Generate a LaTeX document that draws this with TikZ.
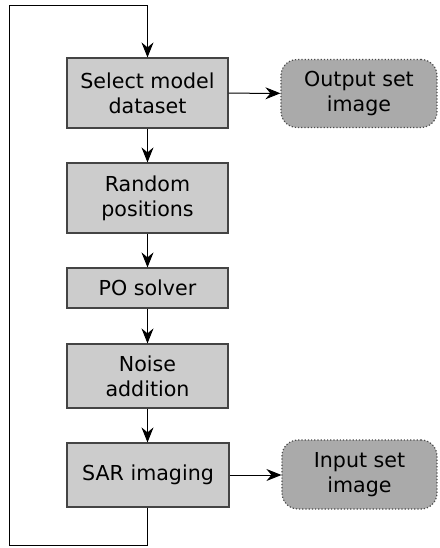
\documentclass[tikz,border=0pt]{standalone}
\usepackage{fontspec}
\setmainfont{DejaVu Sans}
\usetikzlibrary{arrows.meta}
\definecolor{boxfill}{HTML}{CCCCCC}
\definecolor{outfill}{HTML}{AAAAAA}
\definecolor{boxline}{HTML}{444444}
\begin{document}
\begin{tikzpicture}[x=0.5pt,y=-0.5pt,
  font=\fontsize{10.3}{12.5}\selectfont,
  procbox/.style={draw=boxline,line width=0.6pt,fill=boxfill,align=center,minimum width=80.5pt,inner sep=0pt},
  outbox/.style={draw=black!70,densely dotted,line width=0.6pt,fill=outfill,rounded corners=8pt,align=center,minimum width=78pt,minimum height=34pt,inner sep=0pt},
  flow/.style={line width=0.5pt,-{Stealth[length=7.5pt,width=6pt,inset=2.5pt]}},
  loopline/.style={line width=0.5pt}]
\useasboundingbox (0,0) rectangle (440,548);
\node[procbox,minimum height=35pt] (b1) at (147.5,93) {Select model\\dataset};
\node[procbox,minimum height=35pt] (b2) at (147.5,198) {Random\\positions};
\node[procbox,minimum height=20pt] (b3) at (147.5,288) {PO solver};
\node[procbox,minimum height=32pt] (b4) at (147.5,376) {Noise\\addition};
\node[procbox,minimum height=32pt,minimum width=81pt] (b5) at (148,475) {\raisebox{2pt}{SAR imaging}};
\node[outbox] (o1) at (359,93.5) {Output set\\image};
\node[outbox,minimum height=34.5pt,minimum width=77.5pt] (o2) at (359.5,474.5) {Input set\\image};
\coordinate (lb) at (b5.south |- 0,545);
\coordinate (ll) at (9,545);
\coordinate (tl) at (9,5);
\coordinate (tr) at (b1.north |- 0,5);
\draw[flow] (b1) -- (b2);
\draw[flow] (b2) -- (b3);
\draw[flow] (b3) -- (b4);
\draw[flow] (b4.south) -- (b4.south |- b5.north);
\draw[flow] (b1) -- (o1);
\draw[flow] (b5.east) -- (b5.east -| o2.west);
\draw[loopline] (b4.south |- b5.south) -- (lb -| b4.south) -- (ll) -- (tl) -- (tr);
\draw[flow] (tr) -- (b1.north);
\end{tikzpicture}
\end{document}
